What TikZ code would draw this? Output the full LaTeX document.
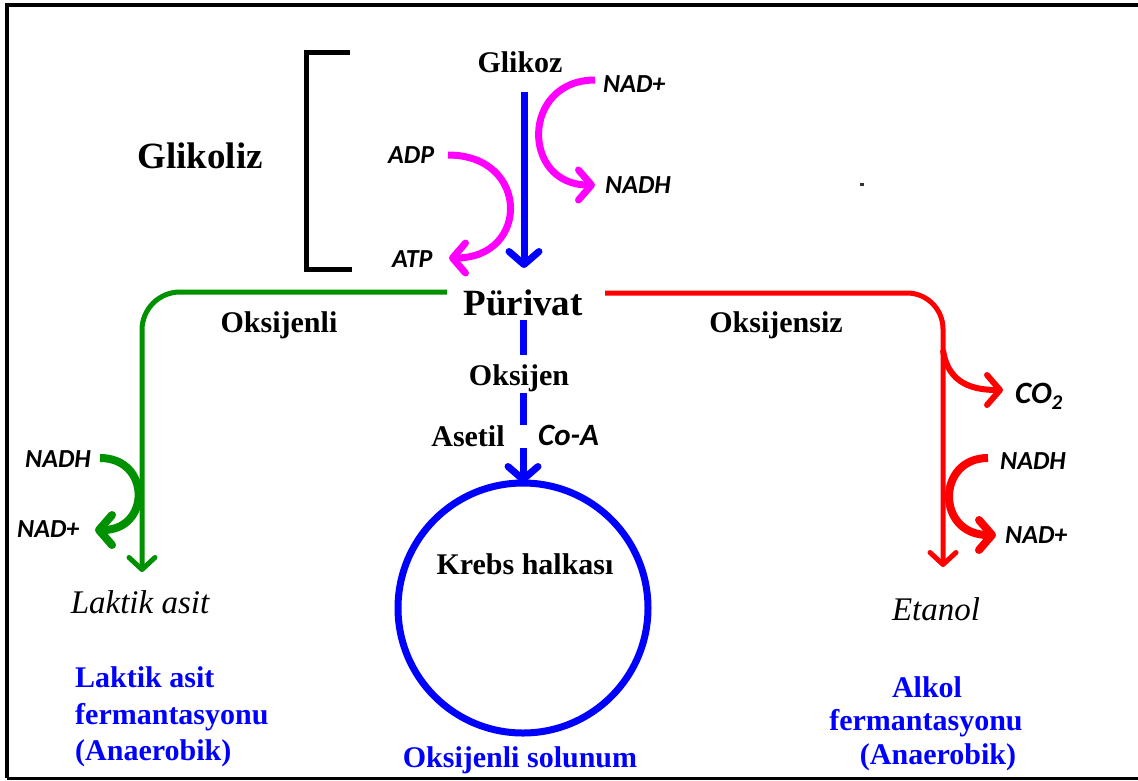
\documentclass[tikz,border=0pt]{standalone}
\usepackage{fontspec}
\setmainfont{Liberation Serif}
\newfontfamily\calfont{Carlito}
\usetikzlibrary{arrows.meta}
\definecolor{mag}{RGB}{255,0,255}
\definecolor{pblue}{RGB}{0,0,255}
\definecolor{pgreen}{RGB}{0,145,0}
\definecolor{pred}{RGB}{255,0,0}
\begin{document}
\begin{tikzpicture}[x=1pt,y=-1pt,
  lbl/.style={font=\fontsize{30}{32}\selectfont\bfseries, inner sep=0pt, anchor=base},
  big/.style={font=\fontsize{37}{40}\selectfont\bfseries, inner sep=0pt, anchor=base},
  itl/.style={font=\fontsize{33}{36}\selectfont\itshape, inner sep=0pt, anchor=base},
  bl/.style={font=\fontsize{30}{32}\selectfont\bfseries, text=pblue, inner sep=0pt},
  chem/.style={font=\fontsize{26}{28}\selectfont\calfont\bfseries\itshape, inner sep=0pt, anchor=base west},
  barb/.style={-{Straight Barb[length=13pt,width=30pt,round]}},
  smallbarb/.style={-{Straight Barb[length=12pt,width=26pt,round]}},
]
\useasboundingbox (0,0) rectangle (1138,780);
% frame
\draw[line width=4pt] (1138,5) -- (7,5) -- (7,778);
\draw[line width=3pt] (7,778) -- (1138,778);
% bracket
\draw[line width=5pt] (350,52) -- (306,52) -- (306,269) -- (352,269);
\node[big] (glikoliz) at (200,168) {Glikoliz};
% main labels
\node[lbl] (glikoz) at (520,72) {Glikoz};
\node[big] (purivat) at (523,315) {Pürivat};
\node[lbl] (oksijenli) at (279,332) {Oksijenli};
\node[lbl] (oksijensiz) at (776,332) {Oksijensiz};
\node[lbl] (oksijen) at (519,385) {Oksijen};
\node[lbl] (asetil) at (468,446) {Asetil};
\node[chem, font=\fontsize{31}{32}\selectfont\calfont\bfseries\itshape] (coa) at (538,445) {Co-A};
\node[lbl] (krebslbl) at (525,574) {Krebs halkası};
\node[bl, anchor=base] (solunum) at (520,767) {Oksijenli solunum};
\node[itl] (laktik) at (140,613) {Laktik asit};
\node[itl] (etanol) at (936,620) {Etanol};
% blue notes
\node[bl, anchor=base west] (lf1) at (75,687) {Laktik asit};
\node[bl, anchor=base west] (lf2) at (75,724) {fermantasyonu};
\node[bl, anchor=base west] (lf3) at (75,760) {(Anaerobik)};
\node[bl, anchor=base] (af1) at (927,697) {Alkol};
\node[bl, anchor=base] (af2) at (926,730) {fermantasyonu};
\node[bl, anchor=base] (af3) at (938,764) {(Anaerobik)};
% chem labels
\node[chem] (nadp1) at (603,92) {NAD+};
\node[chem] (nadh1) at (605,193) {NADH};
\node[chem] (adp) at (388,163) {ADP};
\node[chem] (atp) at (392,267) {ATP};
\node[chem] (nadh2) at (25,467) {NADH};
\node[chem] (nadp2) at (17,537) {NAD+};
\node[chem, font=\fontsize{31}{32}\selectfont\calfont\bfseries\itshape] (co2) at (1015,403) {CO\raisebox{-6pt}{\fontsize{21}{22}\selectfont 2}};
\node[chem] (nadh3) at (1000,469) {NADH};
\node[chem] (nadp3) at (1005,543) {NAD+};
% tiny mark
\fill[black!80] (860,183) rectangle (864,186);
% coordinates
\coordinate (g1) at (524,92);
\coordinate (g2) at (524,268);
\coordinate (p1) at (523,320);
\coordinate (gr0) at (447,292);
\coordinate (gr1) at (142,572);
\coordinate (rd0) at (605,293);
\coordinate (rd1) at (943,567);
\coordinate (rdb) at (943,350);
\coordinate (m1a) at (595,80);
\coordinate (m1b) at (595,185);
\coordinate (m2a) at (448,155);
\coordinate (m2b) at (449,258);
\coordinate (gna) at (100,458);
\coordinate (gnb) at (95,530);
\coordinate (rna) at (988,458);
\coordinate (rnb) at (996,535);
\coordinate (co2e) at (1003,390);
% Krebs circle
\node[circle, draw=pblue, line width=7pt, minimum size=250pt, inner sep=0pt, outer sep=0pt] (krebs) at (523,608) {};
% blue arrows
\draw[pblue, line width=7pt, barb] (g1) -- (g2);
\draw[pblue, line width=7pt, barb, dash pattern=on 35pt off 38pt on 32pt off 23pt on 80pt] (p1) -- (krebs.north);
% magenta
\draw[mag, line width=7pt, barb] (m1a) .. controls (521,80) and (521,185) .. (m1b);
\draw[mag, line width=7pt, barb] (m2a) .. controls (530,155) and (530,258) .. (m2b);
% green
\draw[pgreen, line width=5pt, rounded corners=38pt, smallbarb] (gr0) -| (gr1);
\draw[pgreen, line width=8pt, barb] (gna) .. controls (151,458) and (151,530) .. (gnb);
% red
\draw[pred, line width=5pt, rounded corners=36pt, smallbarb] (rd0) -| (rd1);
\draw[pred, line width=6pt, barb] (rdb) .. controls (948,385) and (975,390) .. (co2e);
\draw[pred, line width=8pt, barb] (rna) .. controls (936,458) and (936,535) .. (rnb);
\end{tikzpicture}
\end{document}
